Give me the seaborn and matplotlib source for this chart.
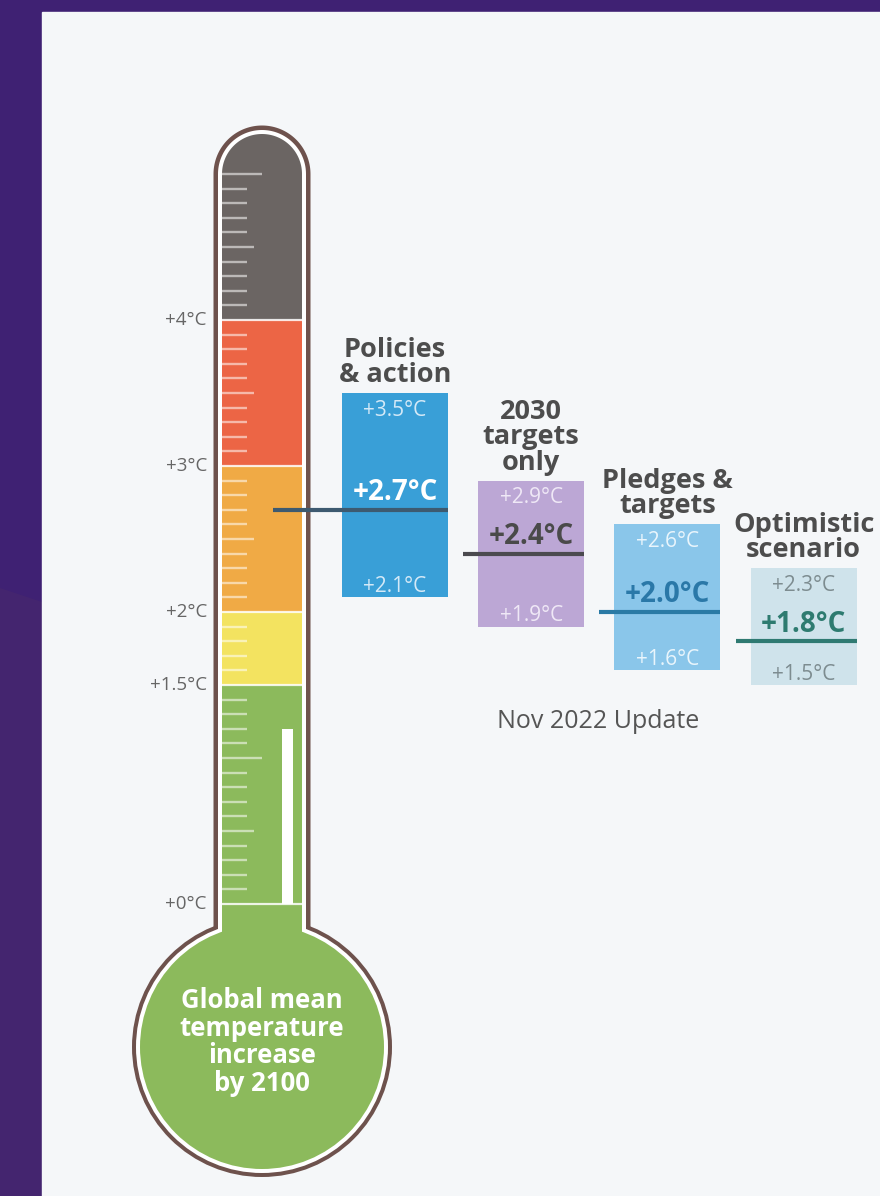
import numpy as np
import matplotlib.pyplot as plt
from matplotlib.patches import Ellipse, Rectangle, Polygon
import seaborn as sns

# warming by 2100 for each scenario (deg C)
scenarios = ['Policies\n& action', '2030\ntargets\nonly', 'Pledges &\ntargets', 'Optimistic\nscenario']
low = [2.1, 1.9, 1.6, 1.5]
mid = [2.7, 2.4, 2.0, 1.8]
high = [3.5, 2.9, 2.6, 2.3]

# thermometer colour bands and scale
band_edges = [0, 1.5, 2, 3, 4, 5]
band_colors = ['#8cba5c', '#f3e360', '#f0aa45', '#ec6545', '#6b6563']
scale_values = [0, 1.5, 2, 3, 4]
scale_labels = ['+0°C', '+1.5°C', '+2°C', '+3°C', '+4°C']
current_warming = 1.2

box_colors = ['#399fd7', '#bca7d5', '#8ac6ea', '#cfe3eb']
line_colors = ['#3d5a70', '#4b4a4f', '#2a7aa5', '#2f7a72']
mid_text_colors = ['white', '#4a4a4a', '#2a78a8', '#2e7b70']
end_text_colors = ['#d4e9f7', '#efe8f6', '#e9f5fc', '#7d8c90']

sns.set_theme(style='white')
plt.rcParams['font.family'] = ['Open Sans', 'DejaVu Sans']

# layout: x in pixels, y in degrees
PX = 146.0      # pixels per degree
ZERO = 904.0    # pixel row of +0 deg


def deg(ypx):
    return (ZERO - ypx) / PX


def tube(cx, hw, top, bottom):
    # rounded-top tube outline as one polygon
    th = np.linspace(0, np.pi, 80)
    pts = np.column_stack([cx + hw * np.cos(th), top + hw / PX * np.sin(th)])
    pts = np.vstack([[cx + hw, bottom], pts, [cx - hw, bottom]])
    return pts


fig = plt.figure(figsize=(8.8, 11.96), dpi=100, facecolor='#3f2173')
ax = fig.add_axes([0, 0, 1, 1])
ax.set_xlim(0, 880)
ax.set_ylim(deg(1196), deg(0))
ax.axis('off')

# slightly warmer purple below the diagonal on the left
ax.add_patch(Polygon([[0, deg(588)], [42, deg(602)], [42, deg(1196)], [0, deg(1196)]],
                     color='#44256f', lw=0, zorder=0))
# light panel
ax.add_patch(Rectangle((42, deg(1196)), 838, deg(12) - deg(1196), color='#f5f7f9', zorder=0))

# thermometer body: brown outline, white rim, then the fill
cx = 262
brown = '#6e524d'
for hw, r, col in [(48.5, 130, brown), (44, 126, 'white')]:
    ax.add_patch(Polygon(tube(cx, hw, 5, deg(1000)), color=col, lw=0, zorder=1))
    ax.add_patch(Ellipse((cx, deg(1047)), 2 * r, 2 * r / PX, color=col, lw=0, zorder=1))

ax.add_patch(Ellipse((cx, deg(1047)), 244, 244 / PX, color=band_colors[0], lw=0, zorder=2))
ax.add_patch(Rectangle((cx - 40, deg(1000)), 80, -deg(1000), color=band_colors[0],
                       lw=0, zorder=2))
ax.add_patch(Polygon(tube(cx, 40, band_edges[-1], band_edges[-2]), color=band_colors[-1],
                     lw=0, zorder=2))
ax.bar(cx, np.diff(band_edges), bottom=band_edges[:-1], width=80, color=band_colors,
       linewidth=0, zorder=3)
ax.hlines(scale_values, cx - 40, cx + 40, colors='white', lw=1.6, alpha=0.85, zorder=4)

# scale ticks
for t in np.round(np.arange(0.1, 5.01, 0.1), 1):
    if t in scale_values:
        continue
    if abs(t - round(t)) < 1e-6:
        ln = 40
    elif abs(t * 2 - round(t * 2)) < 1e-6:
        ln = 32
    else:
        ln = 25
    ax.hlines(t, cx - 40, cx - 40 + ln, colors='white', lw=1.7, alpha=0.55, zorder=4)

# current warming column
ax.bar(287.5, current_warming, bottom=0, width=11, color='white', linewidth=0, zorder=4)

for v, lab in zip(scale_values, scale_labels):
    ax.text(207, v, lab, ha='right', va='center', fontsize=13.5, color='#666666', zorder=5)

ax.text(cx, deg(1042), 'Global mean\ntemperature\nincrease\nby 2100', ha='center', va='center',
        fontsize=18.5, fontweight='bold', color='white', linespacing=1.02, zorder=5)

# scenario range boxes
xs = [395 + 136.2 * i for i in range(len(scenarios))]
ax.bar(xs, np.subtract(high, low), bottom=low, width=106, color=box_colors, linewidth=0, zorder=3)

for i, x in enumerate(xs):
    start = cx + 11 if i == 0 else x - 68
    ax.hlines(mid[i], start, x + 53, colors=line_colors[i], lw=3, zorder=6)
    ax.annotate(f'+{high[i]:.1f}°C', (x, high[i]), xytext=(0, -17), textcoords='offset pixels',
                ha='center', va='center', fontsize=15, color=end_text_colors[i], zorder=6)
    ax.annotate(f'+{low[i]:.1f}°C', (x, low[i]), xytext=(0, 11), textcoords='offset pixels',
                ha='center', va='center', fontsize=15, color=end_text_colors[i], zorder=6)
    ax.annotate(f'+{mid[i]:.1f}°C', (x, mid[i]), xytext=(0, 17), textcoords='offset pixels',
                ha='center', va='center', fontsize=20, fontweight='bold',
                color=mid_text_colors[i], zorder=6)
    ax.annotate(scenarios[i], (x, high[i]), xytext=(0, 5), textcoords='offset pixels',
                ha='center', va='bottom', fontsize=19.5, fontweight='bold', color='#4d4d4d',
                linespacing=0.97, zorder=6)

ax.text(598, deg(722), 'Nov 2022 Update', ha='center', va='center', fontsize=18,
        fontweight='medium', color='#555555')

fig.savefig('out.png', dpi=100, facecolor=fig.get_facecolor())
